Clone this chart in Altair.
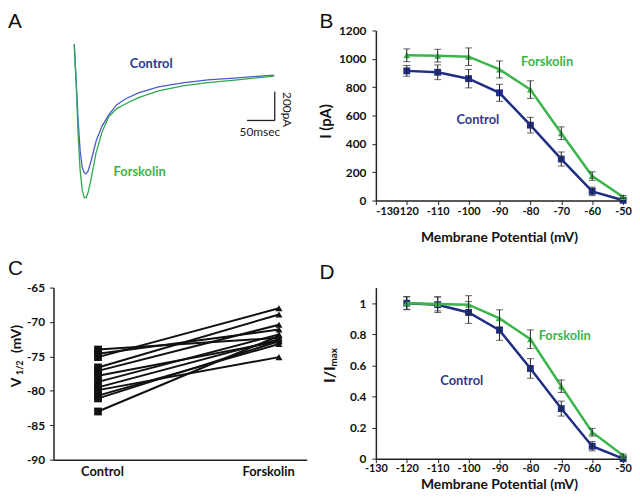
import altair as alt
import pandas as pd

# ---------------- data ----------------
# Panel A: example current traces (time in ms, current in pA)
A_t = [0, 3.6, 7.1, 10.7, 14.3, 17.9, 21.4, 25, 30.4, 39.3, 50, 62.5, 76.8, 92.9, 116, 152, 196, 241, 295, 361]
A_ctrl = [193, -69, -345, -552, -662, -703, -710, -690, -621, -483, -379, -297, -228, -186, -145, -103, -76, -55, -41, -21]
A_fsk = [193, -103, -448, -690, -821, -876, -876, -841, -745, -566, -421, -310, -255, -221, -179, -131, -97, -74, -55, -28]
SB_t = [312, 362]      # 50 msec scale bar
SB_i = [-338, -138]    # 200 pA scale bar

# Panels B and D: membrane potential (mV)
V = [-120, -110, -100, -90, -80, -70, -60, -50]
B_ctrl = [915, 905, 860, 760, 532, 293, 65, 2]
B_ctrl_err = [38, 52, 65, 60, 55, 50, 30, 4]
B_fsk = [1025, 1022, 1015, 925, 783, 475, 173, 25]
B_fsk_err = [45, 45, 62, 60, 62, 45, 30, 10]

D_ctrl = [1.0, 0.99, 0.94, 0.826, 0.58, 0.322, 0.08, 0.0]
D_ctrl_err = [0.04, 0.05, 0.07, 0.065, 0.063, 0.048, 0.03, 0.005]
D_fsk = [1.0, 0.995, 0.99, 0.902, 0.768, 0.466, 0.17, 0.02]
D_fsk_err = [0.042, 0.045, 0.058, 0.055, 0.06, 0.04, 0.025, 0.01]

# Panel C: V1/2 per cell (mV)
C_ctrl = [-74.0, -74.6, -75.1, -76.6, -77.1, -77.8, -78.7, -79.5, -79.9, -80.7, -81.1, -83.0]
C_fsk = [-72.3, -71.1, -68.0, -68.9, -70.4, -72.8, -71.8, -72.5, -75.1, -73.2, -72.8, -72.0]
C_cats = ["Control", "Forskolin"]

# ---------------- styles ----------------
CTRL = "#1f2d84"
FSK = "#3ab54a"
CTRL_TXT = "#2b3990"
FSK_TXT = "#3cb54a"
FONT = "Lato"
LETTER_FONT = "Liberation Sans"


def text_layer(txt, x, y, size=14, angle=0, weight="bold", color="#111", font=FONT,
               align="center", baseline="middle"):
    kw = dict(fontSize=size, fontWeight=weight, color=color, font=font,
              align=align, baseline=baseline)
    if angle:
        kw["angle"] = angle
    return alt.Chart(pd.DataFrame({"t": [txt]})).mark_text(**kw).encode(
        text="t:N", x=alt.value(x), y=alt.value(y))


# ---------------- panel A ----------------
xA = alt.X("t:Q", scale=alt.Scale(domain=[-37.5, 419.6], nice=False, zero=False), axis=None)
yA = alt.Y("I:Q", scale=alt.Scale(domain=[-897, 290], nice=False, zero=False), axis=None)

trace_c = alt.Chart(pd.DataFrame({"t": A_t, "I": A_ctrl})).mark_line(
    color="#4a5ad0", strokeWidth=1.3).encode(x=xA, y=yA)
trace_f = alt.Chart(pd.DataFrame({"t": A_t, "I": A_fsk})).mark_line(
    color="#2ea84f", strokeWidth=1.3).encode(x=xA, y=yA)
sb_h = alt.Chart(pd.DataFrame({"t": [SB_t[0]], "t2": [SB_t[1]], "I": [SB_i[0]]})).mark_rule(
    color="#222", strokeWidth=1.3).encode(x=xA, x2="t2:Q", y=yA)
sb_v = alt.Chart(pd.DataFrame({"t": [SB_t[1]], "I": [SB_i[0]], "I2": [SB_i[1]]})).mark_rule(
    color="#222", strokeWidth=1.3).encode(x=xA, y=yA, y2="I2:Q")
A_lab = pd.DataFrame({"t": [139, 118], "I": [55, -697], "s": ["Control", "Forskolin"]})
labA_c = alt.Chart(A_lab.iloc[[0]]).mark_text(font=FONT, fontWeight="bold", fontSize=13,
                                             color=CTRL_TXT).encode(x=xA, y=yA, text="s:N")
labA_f = alt.Chart(A_lab.iloc[[1]]).mark_text(font=FONT, fontWeight="bold", fontSize=13,
                                             color=FSK_TXT).encode(x=xA, y=yA, text="s:N")
SB_lab = pd.DataFrame({"t": [335, 384], "I": [-421, -262], "s": ["50msec", "200pA"]})
lab50 = alt.Chart(SB_lab.iloc[[0]]).mark_text(font=FONT, fontSize=12, color="#222").encode(
    x=xA, y=yA, text="s:N")
lab200 = alt.Chart(SB_lab.iloc[[1]]).mark_text(font=FONT, fontSize=12, color="#222", angle=90).encode(
    x=xA, y=yA, text="s:N")

panelA = alt.layer(
    trace_c, trace_f, sb_h, sb_v, labA_c, labA_f, lab50, lab200,
    text_layer("A", -46, -20, size=21, weight="normal", color="#111", font=LETTER_FONT,
               align="left", baseline="top"),
).properties(width=256, height=172)


# ---------------- panels B and D ----------------
def iv_panel(ctrl, ctrl_err, fsk, fsk_err, ydom, yvals, letter, ylabels_layers, lab_pos, xtitle_y,
             height, xlabel_pad, first_left):
    xs = alt.Scale(domain=[-130, -50], nice=False, zero=False)
    ys = alt.Scale(domain=ydom, nice=False, zero=False)
    xax_kw = dict(values=list(range(-130, -49, 10)), labelExpr="'' + datum.value", title=None,
                  grid=False, tickSize=4, labelPadding=xlabel_pad, labelOverlap=False,
                  labelFlush=False, labelFontSize=11)
    if first_left:
        xax_kw["labelAlign"] = alt.ExprRef(expr="datum.value == -130 ? 'left' : 'center'")
    xax = alt.Axis(**xax_kw)
    yax = alt.Axis(values=yvals, labelExpr="'' + datum.value", title=None, grid=False,
                   tickSize=4, labelPadding=6, labelOverlap=False, labelFlush=False)
    layers = []
    for vals, errs, col, shape in [(ctrl, ctrl_err, CTRL, "square"), (fsk, fsk_err, FSK, "triangle-up")]:
        df = pd.DataFrame({"V": V, "y": vals,
                           "lo": [a - b for a, b in zip(vals, errs)],
                           "hi": [a + b for a, b in zip(vals, errs)]})
        base = alt.Chart(df)
        x = alt.X("V:Q", scale=xs, axis=xax, title=None)
        layers.append(base.mark_line(color=col, strokeWidth=2.5).encode(
            x=x, y=alt.Y("y:Q", scale=ys, axis=yax, title=None)))
        layers.append(base.mark_point(color=col, filled=True, opacity=1, size=48, shape=shape).encode(
            x=x, y=alt.Y("y:Q", scale=ys, axis=yax, title=None)))
        layers.append(base.mark_rule(color="#222", strokeWidth=1).encode(
            x=x, y=alt.Y("lo:Q", scale=ys, axis=yax, title=None), y2="hi:Q"))
        layers.append(base.mark_tick(color="#222", orient="horizontal", size=7, thickness=1).encode(
            x=x, y=alt.Y("lo:Q", scale=ys, axis=yax, title=None)))
        layers.append(base.mark_tick(color="#222", orient="horizontal", size=7, thickness=1).encode(
            x=x, y=alt.Y("hi:Q", scale=ys, axis=yax, title=None)))
    lab = pd.DataFrame({"V": [lab_pos[0][0], lab_pos[1][0]], "y": [lab_pos[0][1], lab_pos[1][1]],
                        "s": ["Control", "Forskolin"]})
    for i, col in [(0, CTRL_TXT), (1, FSK_TXT)]:
        layers.append(alt.Chart(lab.iloc[[i]]).mark_text(font=FONT, fontWeight="bold", fontSize=13,
                                                        color=col).encode(
            x=alt.X("V:Q", scale=xs, axis=xax, title=None),
            y=alt.Y("y:Q", scale=ys, axis=yax, title=None), text="s:N"))
    layers.append(text_layer("Membrane Potential (mV)", 125, xtitle_y, size=14))
    layers.extend(ylabels_layers)
    layers.append(text_layer(letter[0], -57, letter[1], size=21, weight="normal", color="#111",
                             font=LETTER_FONT, align="left", baseline="top"))
    return alt.layer(*layers).properties(width=250, height=height)


panelB = iv_panel(B_ctrl, B_ctrl_err, B_fsk, B_fsk_err, [0, 1200], list(range(0, 1201, 200)),
                  ("B", -20), [text_layer("I (pA)", -50, 92, size=15, angle=270)],
                  [(-97, 565), (-74.6, 977)], 210, 172, 1, True)

panelD = iv_panel(D_ctrl, D_ctrl_err, D_fsk, D_fsk_err, [0, 1.1], [0, 0.2, 0.4, 0.6, 0.8, 1],
                  ("D", -26),
                  [text_layer("I/I", -46, 88, size=16, angle=270),
                   text_layer("max", -42, 70.5, size=10, angle=270)],
                  [(-102.2, 0.502), (-68.9, 0.788)], 200, 173, 0, False)

# ---------------- panel C ----------------
n = len(C_ctrl)
dfC = pd.DataFrame({
    "id": list(range(n)) * 2,
    "cond": [0] * n + [1] * n,
    "v": C_ctrl + C_fsk,
})
xsC = alt.Scale(domain=[-0.246, 1.153], nice=False, zero=False)
ysC = alt.Scale(domain=[-90, -65], nice=False, zero=False)
xaxC = alt.Axis(values=[0.022, 0.94], labelExpr="datum.value < 0.5 ? 'Control' : 'Forskolin'",
                ticks=False, tickSize=0, labelPadding=6, labelFontSize=13, title=None, grid=False,
                labelFlush=False)
yaxC = alt.Axis(values=[-90, -85, -80, -75, -70, -65], labelExpr="'' + datum.value", title=None,
                grid=False, tickSize=4, labelPadding=5, labelOverlap=False, labelFlush=False)
xC = alt.X("cond:Q", scale=xsC, axis=xaxC, title=None)
yC = alt.Y("v:Q", scale=ysC, axis=yaxC, title=None)
linesC = alt.Chart(dfC).mark_line(color="#111", strokeWidth=2).encode(x=xC, y=yC, detail="id:N")
sqC = alt.Chart(dfC[dfC.cond == 0]).mark_point(shape="square", filled=True, color="#111",
                                               opacity=1, size=62).encode(x=xC, y=yC)
trC = alt.Chart(dfC[dfC.cond == 1]).mark_point(shape="triangle-up", filled=True, color="#111",
                                               opacity=1, size=50).encode(x=xC, y=yC)
panelC = alt.layer(
    linesC, sqC, trC,
    text_layer("V", -37, 96, size=14, angle=270),
    text_layer("1/2", -33.5, 81, size=9, angle=270),
    text_layer("(mV)", -37, 52, size=14, angle=270),
    text_layer("C", -46, -30, size=21, weight="normal", color="#111", font=LETTER_FONT,
               align="left", baseline="top"),
).properties(width=256, height=174)

chart = alt.concat(
    panelA, panelB, panelC, panelD,
    columns=2, spacing={"row": 88, "column": 70}, bounds="flush", padding=0,
).configure_view(stroke=None).configure_axis(
    domainColor="#222", domainWidth=1.5, tickColor="#222", tickWidth=1,
    labelFont=FONT, labelFontWeight="bold", labelFontSize=12, labelColor="#111",
)

chart.save("out.html", embed_options={"renderer": "svg", "actions": False})
